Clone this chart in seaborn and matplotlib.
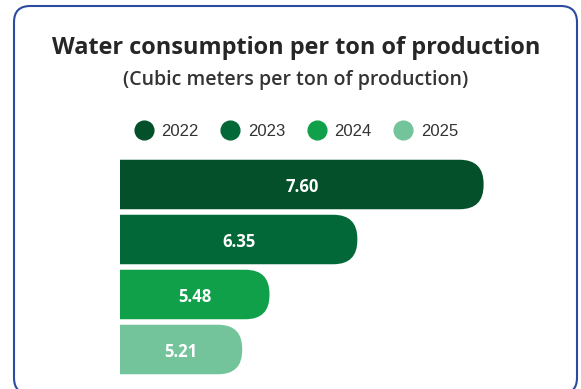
import matplotlib
matplotlib.use("Agg")
import matplotlib.pyplot as plt
from matplotlib.patches import FancyBboxPatch
from matplotlib.lines import Line2D
from matplotlib.transforms import offset_copy
import seaborn as sns
import pandas as pd

# Water use intensity by year
years = ["2022", "2023", "2024", "2025"]
values = [7.60, 6.35, 5.48, 5.21]
colors = ["#03502a", "#036837", "#10a04a", "#74c49b"]

title = "Water consumption per ton of production"
subtitle = "(Cubic meters per ton of production)"

sns.set_theme(style="white")
plt.rcParams["font.family"] = ["Open Sans", "DejaVu Sans"]

W, H = 581, 389
fig = plt.figure(figsize=(W / 100, H / 100), dpi=100)
fig.patch.set_facecolor("white")

# card outline
card = FancyBboxPatch((14 / W, (H - 394) / H), 563 / W, 388 / H,
                      boxstyle="round,pad=0,rounding_size=0.028",
                      mutation_aspect=W / H,
                      transform=fig.transFigure, facecolor="none",
                      edgecolor="#2c4b9e", linewidth=1.5, zorder=0)
fig.patches.append(card)

# plot area in pixels
left_px, right_px = 120, 524
top_px, bottom_px = 157, 377
ax = fig.add_axes([left_px / W, (H - bottom_px) / H,
                   (right_px - left_px) / W, (bottom_px - top_px) / H])
ax.set_facecolor("none")

df = pd.DataFrame({"year": years, "value": values})
sns.barplot(data=df, x="value", y="year", hue="year", palette=colors,
            order=years, hue_order=years, orient="h", width=0.9,
            saturation=1, dodge=False, legend=False, ax=ax)

ax.set_xlim(4.0, 8.0)
ax.set_ylim(3.5, -0.5)
ax.axis("off")

# swap plain bars for bars with rounded ends
px_per_x = (right_px - left_px) / 4.0
px_per_y = (bottom_px - top_px) / 4.0
aspect = px_per_x / px_per_y
radius = 24 / px_per_x
for patch in list(ax.patches):
    x0, y0 = patch.get_x(), patch.get_y()
    w, h = patch.get_width(), patch.get_height()
    col = patch.get_facecolor()
    patch.remove()
    rb = FancyBboxPatch((x0 - 1.0, y0), w + 1.0, h,
                        boxstyle=f"round,pad=0,rounding_size={radius}",
                        mutation_aspect=aspect,
                        facecolor=col, edgecolor="none", zorder=2)
    ax.add_patch(rb)

label_tr = offset_copy(ax.transData, fig=fig, x=0, y=-2, units="points")
for i, v in enumerate(values):
    ax.text((4.0 + v) / 2, i, f"{v:.2f}", ha="center", va="center",
            color="white", fontsize=12.0, fontweight="bold", zorder=3,
            transform=label_tr)

cx = 296 / W
fig.text(cx, 1 - 48 / H, title, ha="center", va="center",
         fontsize=16.9, fontweight="bold", color="#262626")
fig.text(cx, 1 - 80 / H, subtitle, ha="center", va="center",
         fontsize=14, fontweight="semibold", color="#333333")

handles = [Line2D([0], [0], marker="o", linestyle="none", markersize=13.5,
                  markerfacecolor=c, markeredgecolor=c) for c in colors]
leg = fig.legend(handles, years, loc="center", bbox_to_anchor=(cx, 1 - 131 / H),
                 ncol=4, frameon=False, handlelength=1.2, handletextpad=0.45,
                 columnspacing=1.3, borderaxespad=0,
                 prop={"family": "Liberation Sans", "size": 12})
for t in leg.get_texts():
    t.set_color("#333333")

fig.savefig("out.png", dpi=100, facecolor="white")
